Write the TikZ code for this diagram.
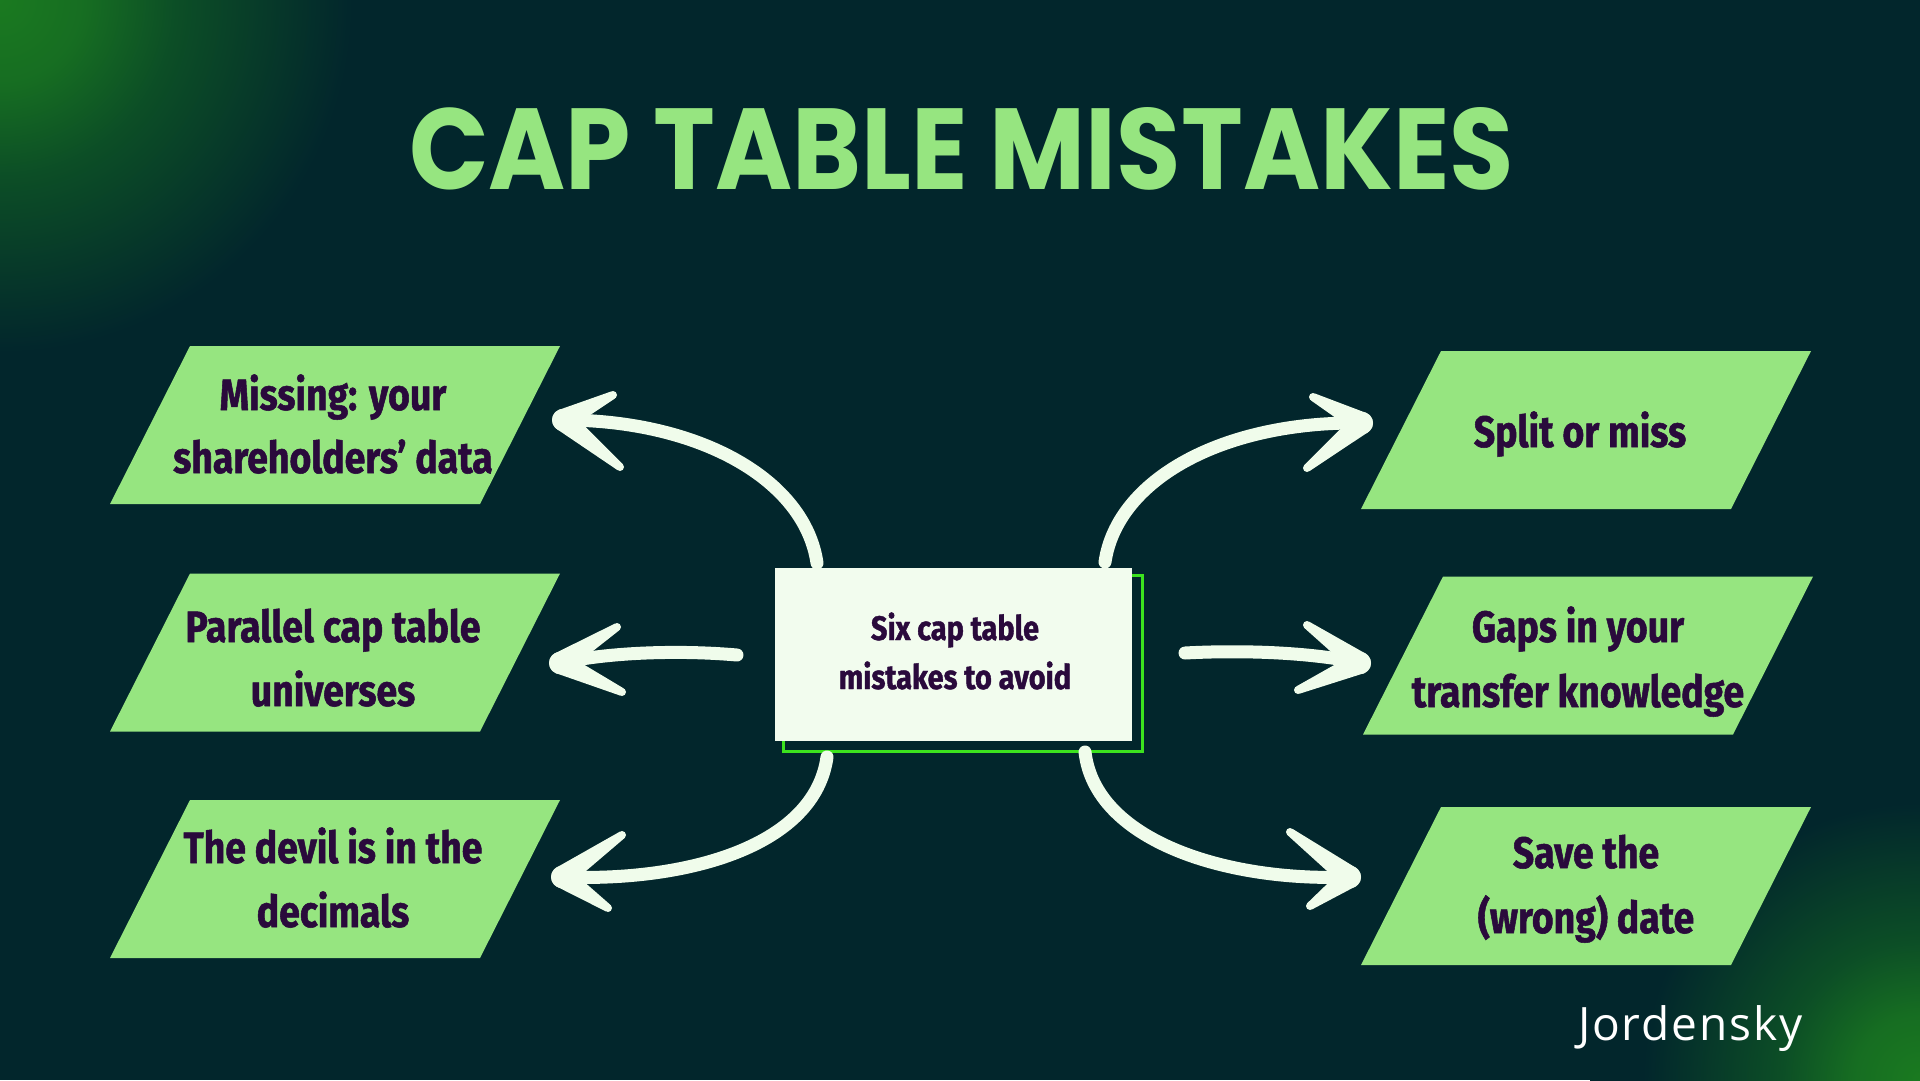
\documentclass[tikz,border=0pt]{standalone}
\usepackage{fontspec}
\usepackage{graphicx}
\usetikzlibrary{calc}
\newfontfamily\titlefont{Poppins}
\newfontfamily\boxfont{Fira Sans}[FakeStretch=0.85,FakeBold=1.2]
\newfontfamily\brandfont{Open Sans}[LetterSpace=4]
\definecolor{bg}{RGB}{2,38,44}
\definecolor{glow}{RGB}{26,122,32}
\definecolor{glowmid}{RGB}{12,78,38}
\definecolor{boxgreen}{RGB}{150,229,128}
\definecolor{boxtext}{RGB}{42,10,60}
\definecolor{arrowc}{RGB}{240,252,235}
\definecolor{centerfill}{RGB}{242,252,238}
\definecolor{edgegreen}{RGB}{60,226,30}
\pgfdeclareradialshading{cornerglow}{\pgfpointorigin}{color(0bp)=(glow); color(5bp)=(glow!85!bg); color(10.5bp)=(glowmid); color(21bp)=(bg); color(50bp)=(bg)}
\newcommand{\parabox}[1]{%
  \fill[mistake] ($(#1)+(-225,79)$) -- ($(#1)+(145,79)$) -- ($(#1)+(225,-79)$) -- ($(#1)+(-145,-79)$) -- cycle;}
\newcommand{\barbdraw}[2]{%
  \fill[arrowc] ($(#1)!11pt!90:(#2)$) -- ($(#2)!4pt!-90:(#1)$) -- ($(#2)!4pt!90:(#1)$) -- ($(#1)!11pt!-90:(#2)$) -- cycle;
  \fill[arrowc] (#2) circle[radius=4];
  \fill[arrowc] (#1) circle[radius=11];}
\tikzset{
  mistake/.style={fill=boxgreen},
  boxline/.style={anchor=base, text=boxtext, inner sep=0pt, font=\boxfont\bfseries\fontsize{44}{50}\selectfont},
  centerline/.style={anchor=base, text=boxtext, inner sep=0pt, font=\boxfont\bfseries\fontsize{34}{40}\selectfont},
  shaft/.style={draw=arrowc, line width=13pt, line cap=round},
  centerbox/.style={fill=centerfill, minimum width=357pt, minimum height=173pt, inner sep=0pt},
  shadowedge/.style={draw=edgegreen, line width=3pt}
}
\begin{document}
\begin{tikzpicture}[x=1pt,y=-1pt]
\useasboundingbox (0,0) rectangle (1920,1080);
\fill[bg] (0,0) rectangle (1920,1080);
\begin{scope}
  \clip (0,0) rectangle (1920,1080);
  \shade[shading=cornerglow] (0,0) circle[radius=420];
  \shade[shading=cornerglow] (1920,1080) circle[radius=330];
\end{scope}

% title
\node[anchor=base, text=boxgreen, inner sep=0pt] (title) at (961.5,189)
  {\resizebox{1105pt}{82pt}{\titlefont\bfseries\fontsize{117}{120}\selectfont CAP TABLE MISTAKES}};

% box centres
\coordinate (L1) at (335,425);
\coordinate (L2) at (335,652.5);
\coordinate (L3) at (335,879);
\coordinate (R1) at (1586,430);
\coordinate (R2) at (1588,655.5);
\coordinate (R3) at (1586,886);
\parabox{L1}\parabox{L2}\parabox{L3}
\parabox{R1}\parabox{R2}\parabox{R3}

\node[boxline] (l1a) at (333,410) {Missing: your};
\node[boxline] (l1b) at (333,473) {shareholders’ data};
\node[boxline] (l2a) at (333,642) {Parallel cap table};
\node[boxline] (l2b) at (333,706) {universes};
\node[boxline] (l3a) at (333,863) {The devil is in the};
\node[boxline] (l3b) at (333,927) {decimals};
\node[boxline] (r1a) at (1580,447) {Split or miss};
\node[boxline] (r2a) at (1578,642) {Gaps in your};
\node[boxline] (r2b) at (1578,707) {transfer knowledge};
\node[boxline] (r3a) at (1586,868) {Save the};
\node[boxline] (r3b) at (1586,933) {(wrong) date};

% centre box
\draw[shadowedge] (783,575) rectangle (1142,751);
\node[centerbox] (center) at (953.5,654.5) {};
\node[centerline] (c1) at (955,640) {Six cap table};
\node[centerline] (c2) at (955,689) {mistakes to avoid};

% arrows
\coordinate (a1s) at (817,563);  \coordinate (a1t) at (563,420);
\coordinate (a1u) at (613,395);  \coordinate (a1l) at (620,467);
\coordinate (a2s) at (737,655);  \coordinate (a2t) at (560,663);
\coordinate (a2u) at (617,627);  \coordinate (a2l) at (622,692);
\coordinate (a3s) at (827,757);  \coordinate (a3t) at (562,877);
\coordinate (a3u) at (622,835);  \coordinate (a3l) at (608,908);
\coordinate (a4s) at (1105,562); \coordinate (a4t) at (1362,423);
\coordinate (a4u) at (1313,397); \coordinate (a4l) at (1307,468);
\coordinate (a5s) at (1185,653); \coordinate (a5t) at (1360,663);
\coordinate (a5u) at (1307,625); \coordinate (a5l) at (1298,690);
\coordinate (a6s) at (1085,752); \coordinate (a6t) at (1350,877);
\coordinate (a6u) at (1290,832); \coordinate (a6l) at (1310,906);

\draw[shaft] (a1s) .. controls (805,480) and (700,420) .. (a1t);
\draw[shaft] (a2s) .. controls (680,650) and (610,652) .. (a2t);
\draw[shaft] (a3s) .. controls (815,845) and (690,882) .. (a3t);
\draw[shaft] (a4s) .. controls (1117,480) and (1222,421) .. (a4t);
\draw[shaft] (a5s) .. controls (1240,650) and (1310,652) .. (a5t);
\draw[shaft] (a6s) .. controls (1095,840) and (1225,882) .. (a6t);
\barbdraw{a1t}{a1u}\barbdraw{a1t}{a1l}
\barbdraw{a2t}{a2u}\barbdraw{a2t}{a2l}
\barbdraw{a3t}{a3u}\barbdraw{a3t}{a3l}
\barbdraw{a4t}{a4u}\barbdraw{a4t}{a4l}
\barbdraw{a5t}{a5u}\barbdraw{a5t}{a5l}
\barbdraw{a6t}{a6u}\barbdraw{a6t}{a6l}

\node[anchor=base west, text=white, inner sep=0pt, font=\brandfont\fontsize{46}{50}\selectfont] (brand) at (1578,1040) {Jordensky};
\end{tikzpicture}
\end{document}
